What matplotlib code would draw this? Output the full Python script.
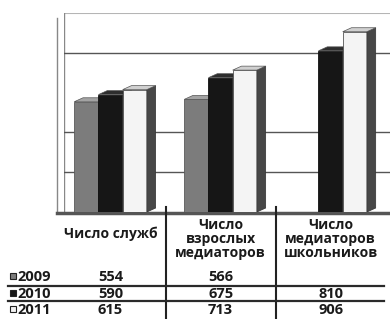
import matplotlib
matplotlib.use('Agg')
import matplotlib.pyplot as plt
from matplotlib.patches import Polygon, Rectangle
from matplotlib.lines import Line2D
from matplotlib.transforms import blended_transform_factory

# data
categories = ['Число служб', 'Число\nвзрослых\nмедиаторов', 'Число\nмедиаторов\nшкольников']
years = ['2009', '2010', '2011']
values_2009 = [554, 566, None]
values_2010 = [590, 675, 810]
values_2011 = [615, 713, 906]
series = [values_2009, values_2010, values_2011]
gridlines = [200, 400, 800]

front_colors = ['#7c7c7c', '#161616', '#f4f4f4']
top_colors = ['#a3a3a3', '#2e2e2e', '#d0d0d0']
edge_colors = ['#5a5a5a', '#111111', '#555555']
side_color = '#474747'

W, H = 390, 319


def fy(px):
    return 1 - px / H


def fx(px):
    return px / W


plt.rcParams['font.family'] = ['Open Sans', 'DejaVu Sans']

fig = plt.figure(figsize=(W / 100, H / 100), dpi=100)
ax = fig.add_axes([fx(64), fy(212), 1 - fx(64), (212 - 13) / H])
ax.set_xlim(-0.423, 2.54)
ax.set_ylim(0, 1000)
ax.axis('off')

# back wall
ax.axhline(1000, color='#b5b5b5', lw=1.5, zorder=1)
ax.axvline(-0.423, color='#888888', lw=1, zorder=1)
for g in gridlines:
    ax.axhline(g, color='#555555', lw=1, zorder=1)

# left side wall edge
ax.plot([-0.487, -0.487], [-5, 975], color='#888888', lw=1, clip_on=False, zorder=1)

# floor
ax.plot([-0.487, 2.54], [-4, -4], color='#555555', lw=2.5, clip_on=False, zorder=2)

w = 0.22
dx, dy = 0.08, 20
for i, vals in enumerate(series):
    xs = [c + (i - 1) * w for c in range(len(vals)) if vals[c] is not None]
    hs = [v for v in vals if v is not None]
    z = 3 + 2 * i
    bars = ax.bar(xs, hs, width=w, color=front_colors[i], edgecolor=edge_colors[i],
                  lw=0.6, zorder=z)
    for b in bars:
        x0, x1, h = b.get_x(), b.get_x() + b.get_width(), b.get_height()
        ax.add_patch(Polygon([(x1, 0), (x1 + dx, dy), (x1 + dx, h + dy), (x1, h)],
                             closed=True, facecolor=side_color, edgecolor='#333333',
                             lw=0.5, zorder=z + 0.5))
        ax.add_patch(Polygon([(x0, h), (x0 + dx, h + dy), (x1 + dx, h + dy), (x1, h)],
                             closed=True, facecolor=top_colors[i], edgecolor='#555555',
                             lw=0.5, zorder=z + 0.6))

# data table under the chart
trans = blended_transform_factory(ax.transData, fig.transFigure)
header_y = [234, 239, 239]
for c, label in enumerate(categories):
    ax.text(c, fy(header_y[c]), label, transform=trans, ha='center', va='center',
            fontsize=10, fontweight='bold', color='#1a1a1a', linespacing=1.0)

row_y = [277, 293.5, 310]
for r, vals in enumerate(series):
    for c, v in enumerate(vals):
        if v is not None:
            ax.text(c, fy(row_y[r]), str(v), transform=trans, ha='center', va='center',
                    fontsize=10.5, fontweight='bold', color='#1a1a1a')
    fig.add_artist(Rectangle((fx(10), fy(row_y[r] + 2)), fx(6), 6 / H,
                             facecolor=front_colors[r], edgecolor='#222222', lw=0.8))
    fig.text(fx(17), fy(row_y[r]), years[r], ha='left', va='center',
             fontsize=10.5, fontweight='bold', color='#1a1a1a')

for y in [285.5, 301]:
    fig.add_artist(Line2D([fx(8), fx(384)], [fy(y), fy(y)], color='#2a2a2a', lw=1.6))

for xd in [0.5, 1.5]:
    ax.plot([xd, xd], [fy(207), fy(319)], transform=trans, color='#222222', lw=1.5,
            clip_on=False, zorder=2)

fig.savefig('out.png', dpi=100)
